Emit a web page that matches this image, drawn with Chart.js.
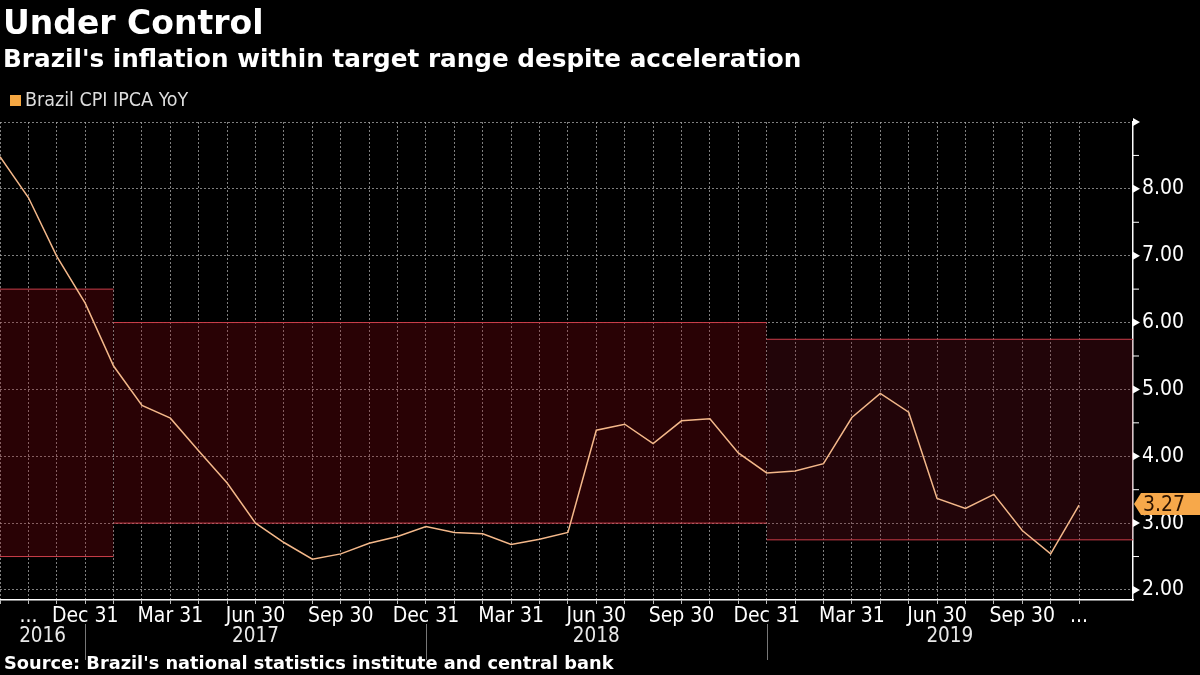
<!DOCTYPE html>
<html>
<head>
<meta charset="utf-8">
<script src="https://cdn.jsdelivr.net/npm/chart.js@4.4.1/dist/chart.umd.min.js"></script>
<style>
body{margin:0;background:#000;}
#wrap{position:relative;width:1200px;height:675px;background:#000;overflow:hidden;}
#wrap canvas{position:absolute;left:0;top:0;}
.txt{position:absolute;white-space:nowrap;color:#fff;font-family:"DejaVu Sans",sans-serif;}
#title{left:3px;top:3px;font-size:33px;font-weight:bold;}
#sub{left:3px;top:44px;font-size:24.7px;font-weight:bold;}
#legend{left:10px;top:88px;font-size:19.5px;color:#ddd;font-family:"DejaVu Sans Condensed","DejaVu Sans",sans-serif;}
#legend span{display:inline-block;width:11px;height:11px;background:#f5a742;margin-right:4px;}
#source{left:4px;top:652px;font-size:17.8px;font-weight:bold;}
#tag{position:absolute;left:1141px;width:59px;height:22px;line-height:22px;background:#f7a84a;color:#2a1200;
  font-family:"DejaVu Sans Condensed",sans-serif;font-size:21px;padding-left:2px;box-sizing:border-box;}
#tag:before{content:"";position:absolute;left:-7px;top:0;border-top:11px solid transparent;border-bottom:11px solid transparent;border-right:7px solid #f7a84a;}
</style>
</head>
<body>
<div id="wrap">
  <canvas id="c" width="1200" height="675"></canvas>
  <div class="txt" id="title">Under Control</div>
  <div class="txt" id="sub">Brazil's inflation within target range despite acceleration</div>
  <div class="txt" id="legend"><span></span>Brazil CPI IPCA YoY</div>
  <div class="txt" id="source">Source: Brazil's national statistics institute and central bank</div>
  <div id="tag"></div>
</div>
<script>
// monthly readings, Sep 2016 .. Nov 2019 (x = month index)
const months = ['Sep 16','Oct 16','Nov 16','Dec 16',
  'Jan 17','Feb 17','Mar 17','Apr 17','May 17','Jun 17','Jul 17','Aug 17','Sep 17','Oct 17','Nov 17','Dec 17',
  'Jan 18','Feb 18','Mar 18','Apr 18','May 18','Jun 18','Jul 18','Aug 18','Sep 18','Oct 18','Nov 18','Dec 18',
  'Jan 19','Feb 19','Mar 19','Apr 19','May 19','Jun 19','Jul 19','Aug 19','Sep 19','Oct 19','Nov 19'];
const cpiYoY = [8.48, 7.87, 6.99, 6.29,
  5.35, 4.76, 4.57, 4.08, 3.60, 3.00, 2.71, 2.46, 2.54, 2.70, 2.80, 2.95,
  2.86, 2.84, 2.68, 2.76, 2.86, 4.39, 4.48, 4.19, 4.53, 4.56, 4.05, 3.75,
  3.78, 3.89, 4.58, 4.94, 4.66, 3.37, 3.22, 3.43, 2.89, 2.54, 3.27];

// target ranges (month index where each range starts / ends)
const bandStart = [0, 4, 27];
const bandEnd   = [4, 27, 39.9];
const bandLow   = [2.5, 3.0, 2.75];
const bandHigh  = [6.5, 6.0, 5.75];
const bandFill  = ['rgba(150,7,18,0.27)', 'rgba(150,7,18,0.27)', 'rgba(125,18,32,0.27)'];

const xTickIdx    = [1, 3, 6, 9, 12, 15, 18, 21, 24, 27, 30, 33, 36, 38];
const xTickLabels = ['...', 'Dec 31', 'Mar 31', 'Jun 30', 'Sep 30', 'Dec 31', 'Mar 31', 'Jun 30', 'Sep 30', 'Dec 31', 'Mar 31', 'Jun 30', 'Sep 30', '...'];
const years      = ['2016', '2017', '2018', '2019'];
const yearBreaks = [3, 15, 27];

const yMin = 1.85, yMax = 9.0;
const FONT = '"DejaVu Sans Condensed", sans-serif';

const datasets = [{
  label: 'Brazil CPI IPCA YoY',
  data: cpiYoY.map((v, i) => ({x: i, y: v})),
  borderColor: '#f4b88a',
  borderWidth: 1.5,
  pointRadius: 0,
  tension: 0,
  fill: false
}];
bandStart.forEach((s, k) => {
  datasets.push({
    data: [{x: s, y: bandLow[k]}, {x: bandEnd[k], y: bandLow[k]}],
    borderColor: '#cc3e4a', borderWidth: 1, pointRadius: 0, fill: false
  });
  datasets.push({
    data: [{x: s, y: bandHigh[k]}, {x: bandEnd[k], y: bandHigh[k]}],
    borderColor: '#cc3e4a', borderWidth: 1, pointRadius: 0,
    fill: '-1', backgroundColor: bandFill[k]
  });
});

const extras = {
  id: 'extras',
  afterDraw(chart) {
    const ctx = chart.ctx, xs = chart.scales.x, ys = chart.scales.y;
    const ax = chart.chartArea.right;
    ctx.save();
    // right axis: arrows at whole numbers, small ticks at halves
    ctx.fillStyle = '#fff';
    ctx.strokeStyle = '#fff';
    ctx.lineWidth = 1;
    for (let v = 2; v <= 9; v += 0.5) {
      const y = ys.getPixelForValue(v);
      if (v % 1 === 0) {
        ctx.beginPath();
        ctx.moveTo(ax, y - 4);
        ctx.lineTo(ax + 7, y);
        ctx.lineTo(ax, y + 4);
        ctx.closePath();
        ctx.fill();
      } else {
        ctx.beginPath();
        ctx.moveTo(ax, y);
        ctx.lineTo(ax + 6, y);
        ctx.stroke();
      }
    }
    // year row
    ctx.font = '20.5px ' + FONT;
    ctx.fillStyle = '#e8e8e8';
    ctx.textAlign = 'center';
    ctx.textBaseline = 'middle';
    const edges = [chart.chartArea.left].concat(yearBreaks.map(b => xs.getPixelForValue(b)), [ax]);
    years.forEach((yr, i) => ctx.fillText(yr, (edges[i] + edges[i + 1]) / 2, 637));
    ctx.strokeStyle = '#777';
    yearBreaks.forEach(b => {
      const x = Math.round(xs.getPixelForValue(b)) + 0.5;
      ctx.beginPath();
      ctx.moveTo(x, 624);
      ctx.lineTo(x, 660);
      ctx.stroke();
    });
    ctx.restore();
    // last value tag (html), placed from the y scale
    const last = cpiYoY[cpiYoY.length - 1];
    const tag = document.getElementById('tag');
    tag.textContent = last.toFixed(2);
    tag.style.top = Math.round(ys.getPixelForValue(last) - 12) + 'px';
  }
};

new Chart(document.getElementById('c'), {
  type: 'line',
  data: {datasets: datasets},
  plugins: [extras],
  options: {
    responsive: false,
    devicePixelRatio: 1,
    animation: false,
    layout: {padding: {top: 122, left: 0, right: 0, bottom: 0}},
    plugins: {legend: {display: false}, tooltip: {enabled: false}},
    scales: {
      x: {
        type: 'linear', min: 0, max: 39.9,
        afterBuildTicks: s => { s.ticks = months.map((m, i) => ({value: i})); },
        afterFit: s => { s.height = 75; s.paddingLeft = 0; s.paddingRight = 0; },
        grid: {color: 'rgba(170,170,170,0.75)', lineWidth: 1, drawTicks: true, tickLength: 4, tickColor: '#bbb'},
        border: {display: true, color: '#fff', width: 1.5, dash: [2, 2]},
        ticks: {
          autoSkip: false, maxRotation: 0, padding: 0, color: '#fff',
          font: {family: FONT, size: 21},
          callback: v => { const k = xTickIdx.indexOf(v); return k < 0 ? '' : xTickLabels[k]; }
        }
      },
      y: {
        position: 'right', min: yMin, max: yMax,
        afterBuildTicks: s => { s.ticks = [2, 3, 4, 5, 6, 7, 8, 9].map(v => ({value: v})); },
        afterFit: s => { s.width = 67; },
        grid: {color: 'rgba(170,170,170,0.75)', lineWidth: 1, drawTicks: false},
        border: {display: true, color: '#fff', width: 1.5, dash: [2, 2]},
        ticks: {
          padding: 9, color: '#fff',
          font: {family: FONT, size: 21},
          callback: v => v === 9 ? '' : v.toFixed(2)
        }
      }
    }
  }
});
</script>
</body>
</html>
